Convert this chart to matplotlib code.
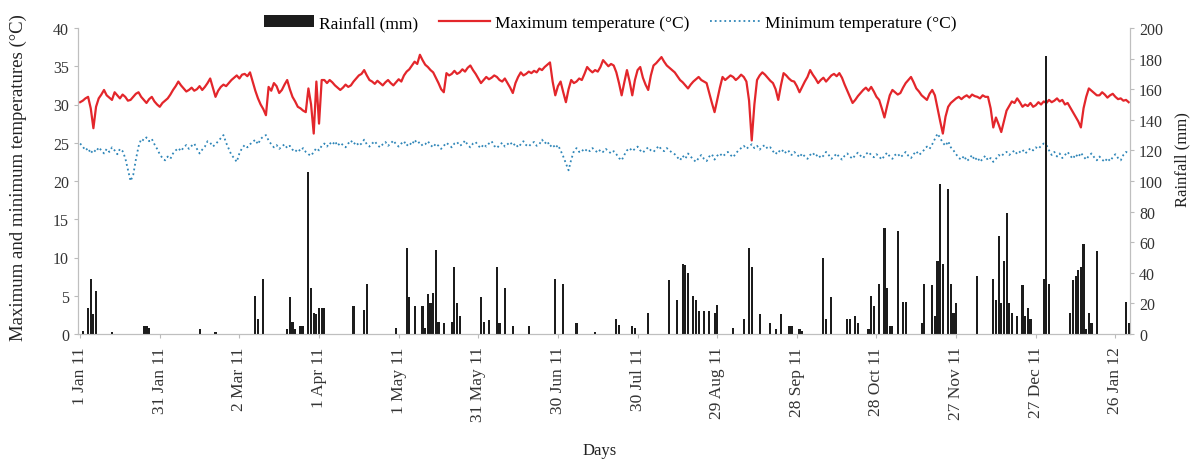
import matplotlib
matplotlib.use("Agg")
import matplotlib.pyplot as plt
import numpy as np
import pandas as pd

plt.rcParams['font.family'] = ['Liberation Serif', 'DejaVu Serif']

start_date = "2011-01-01"

# daily maximum temperature (degC), 1 Jan 2011 - 31 Jan 2012
tmax = [
    30.3, 30.5, 30.8, 31.0, 29.5, 26.9, 29.7, 30.8, 31.3, 31.9,
    31.2, 30.9, 30.6, 31.6, 31.2, 30.8, 31.3, 31.0, 30.5, 30.6,
    31.0, 31.4, 31.6, 31.0, 30.6, 30.2, 30.7, 31.0, 30.4, 30.0,
    29.7, 30.2, 30.5, 30.8, 31.3, 31.9, 32.4, 33.0, 32.5, 32.1,
    31.7, 31.9, 32.2, 31.8, 32.0, 32.4, 31.9, 32.3, 32.8, 33.4,
    32.2, 31.0, 31.8, 32.3, 32.6, 32.4, 32.8, 33.2, 33.5, 33.8,
    33.4, 33.9, 34.0, 33.7, 34.2, 33.0, 31.8, 30.8, 30.0, 29.4,
    28.6, 32.3, 31.8, 32.8, 32.4, 31.5, 31.9, 32.6, 33.2, 32.0,
    31.0, 30.4, 29.7, 29.5, 29.2, 29.0, 32.1, 30.0, 26.2, 33.0,
    27.5, 33.2, 33.2, 32.8, 33.2, 32.9, 32.5, 32.2, 31.9, 32.2,
    32.6, 32.3, 32.5, 33.0, 33.4, 33.8, 34.0, 34.5, 33.8, 33.2,
    33.0, 32.7, 33.1, 32.8, 32.5, 32.9, 33.2, 32.8, 32.5, 32.9,
    33.3, 33.0, 33.8, 34.3, 34.6, 35.1, 35.6, 35.3, 36.5, 35.8,
    35.2, 34.9, 34.5, 34.2, 33.5, 32.8, 32.0, 31.6, 34.1, 33.8,
    34.0, 34.4, 34.0, 34.2, 34.6, 34.3, 34.8, 35.1, 34.5, 34.0,
    33.4, 32.8, 33.2, 33.6, 33.3, 33.5, 33.8, 33.6, 33.2, 33.0,
    33.4, 32.8, 32.2, 31.5, 32.8, 33.6, 34.2, 33.8, 34.0, 34.3,
    34.1, 34.4, 34.2, 34.7, 34.5, 34.9, 35.2, 35.5, 33.0, 31.2,
    32.4, 33.0, 31.6, 30.3, 32.0, 33.2, 32.8, 33.0, 33.4, 33.2,
    34.0, 34.9, 34.5, 34.2, 34.5, 34.3, 34.9, 35.8, 35.4, 35.0,
    35.3, 35.1, 34.2, 32.8, 31.2, 32.9, 34.5, 33.0, 31.2, 33.2,
    34.5, 34.9, 33.5, 32.6, 31.9, 33.8, 35.1, 35.4, 35.8, 36.2,
    35.6, 35.1, 34.8, 34.5, 34.2, 33.7, 33.2, 32.9, 32.5, 32.1,
    32.6, 33.0, 33.3, 33.6, 33.2, 33.0, 32.8, 31.5, 30.2, 29.0,
    30.6, 32.2, 33.6, 33.2, 33.5, 33.8, 33.6, 33.2, 33.5, 33.9,
    33.6, 33.0, 30.5, 25.3, 30.0, 33.2, 33.8, 34.2, 33.9, 33.5,
    33.1, 32.8, 32.0, 30.6, 32.5, 34.1, 33.8, 33.4, 33.1, 33.0,
    32.4, 31.6, 32.3, 33.0, 33.6, 34.5, 33.9, 33.4, 32.8, 33.2,
    33.5, 33.0, 33.4, 33.8, 34.0, 33.7, 34.1, 33.5, 32.6, 31.8,
    31.0, 30.2, 30.6, 31.1, 31.5, 31.9, 32.2, 31.8, 32.3, 31.7,
    31.0, 30.6, 29.5, 28.3, 29.8, 31.2, 31.9, 31.6, 31.3, 31.5,
    32.2, 32.8, 33.2, 33.6, 32.9, 32.1, 31.7, 31.2, 30.9, 30.6,
    31.4, 31.9, 31.2, 29.5, 27.8, 26.2, 28.4, 29.7, 30.2, 30.5,
    30.8, 31.0, 30.7, 31.0, 31.2, 30.9, 31.3, 31.1, 31.0, 30.8,
    31.2, 31.0, 31.0, 29.5, 27.0, 28.3, 27.4, 26.4, 27.8, 29.2,
    29.8, 30.4, 30.2, 30.8, 30.3, 29.7, 30.0, 29.8, 30.2, 29.7,
    29.9, 30.3, 30.0, 30.4, 30.2, 30.6, 30.3, 30.5, 30.8, 30.4,
    30.6, 30.0, 30.2, 29.6, 29.0, 28.4, 27.8, 27.0, 29.5, 31.0,
    32.1, 31.8, 31.5, 31.2, 31.2, 31.6, 31.3, 30.9, 31.2, 31.4,
    31.0, 30.7, 30.8, 30.5, 30.6, 30.3,
]

# daily minimum temperature (degC)
tmin = [
    24.9, 24.5, 24.0, 24.3, 23.6, 24.1, 23.8, 24.4, 24.0, 23.6,
    24.2, 23.8, 24.4, 24.0, 23.5, 24.2, 23.9, 23.0, 21.5, 20.0,
    20.8, 22.8, 24.5, 25.5, 25.3, 25.7, 25.2, 25.5, 24.8, 24.2,
    23.5, 23.0, 22.7, 23.2, 22.9, 23.6, 24.0, 24.3, 23.9, 24.4,
    24.7, 24.2, 24.6, 24.9, 24.2, 23.6, 24.1, 24.5, 25.2, 25.0,
    24.5, 24.8, 25.2, 25.6, 26.0, 25.0, 24.2, 23.4, 23.0, 22.5,
    23.6, 24.3, 24.7, 24.4, 24.8, 25.1, 25.4, 24.8, 25.5, 25.8,
    26.0, 25.3, 24.8, 24.4, 24.7, 24.2, 24.5, 24.8, 24.3, 24.6,
    24.1, 23.8, 24.2, 23.9, 24.3, 23.8, 23.5, 23.3, 23.8, 24.3,
    24.0, 24.6, 24.9, 24.5, 25.0, 24.7, 25.2, 24.6, 25.0, 24.7,
    24.4, 24.9, 25.3, 24.8, 25.1, 24.6, 24.9, 25.4, 24.8, 24.5,
    24.9, 25.2, 24.7, 24.4, 24.8, 25.1, 24.6, 24.9, 25.3, 24.8,
    24.5, 24.9, 25.2, 24.6, 25.0, 24.7, 25.4, 24.9, 25.1, 24.6,
    24.8, 25.2, 24.7, 24.4, 24.9, 24.6, 24.2, 24.6, 25.0, 24.7,
    24.4, 24.9, 25.1, 24.6, 24.8, 25.3, 24.7, 24.4, 24.9, 25.1,
    24.6, 24.3, 24.8, 24.5, 24.9, 25.2, 24.6, 24.3, 24.7, 25.0,
    24.5, 24.8, 25.1, 24.6, 24.9, 24.4, 24.8, 25.2, 24.7, 24.5,
    24.9, 25.1, 24.6, 24.8, 25.4, 24.9, 25.2, 24.5, 24.8, 24.3,
    24.7, 24.0, 23.2, 22.3, 21.4, 22.8, 23.9, 24.3, 23.8, 24.1,
    23.8, 24.2, 23.9, 24.3, 24.0, 23.7, 24.1, 23.8, 24.2, 23.9,
    23.6, 23.9, 23.5, 23.0, 22.7, 23.4, 24.0, 24.3, 23.9, 24.2,
    24.5, 24.0, 23.7, 24.1, 24.4, 24.0, 23.8, 24.2, 24.6, 24.1,
    23.9, 24.3, 24.0, 23.7, 23.5, 23.1, 22.7, 23.3, 22.9, 23.6,
    23.2, 22.8, 22.5, 23.0, 23.4, 22.9, 22.6, 23.2, 23.5, 22.8,
    23.3, 23.6, 23.2, 23.5, 23.8, 23.4, 23.1, 23.6, 24.0, 24.3,
    24.6, 24.2, 24.5, 24.8, 24.3, 24.6, 24.1, 24.5, 24.7, 24.2,
    24.4, 23.9, 23.5, 24.0, 23.7, 24.1, 23.6, 23.9, 23.4, 23.8,
    23.5, 23.1, 23.6, 23.2, 22.9, 23.4, 23.7, 23.2, 23.5, 23.0,
    23.3, 23.8, 23.4, 22.9, 23.2, 23.6, 23.1, 22.8, 23.3, 23.6,
    23.2, 22.9, 23.4, 23.7, 23.3, 23.0, 23.5, 23.8, 23.4, 23.1,
    23.5, 23.2, 22.8, 23.3, 23.7, 23.2, 22.9, 23.4, 23.6, 23.1,
    23.4, 23.8, 23.3, 23.0, 23.5, 23.9, 23.4, 23.7, 24.1, 24.5,
    24.2, 24.8, 25.5, 26.2, 25.6, 25.0, 24.6, 25.2, 24.4, 24.0,
    23.5, 23.0, 22.8, 23.3, 22.6, 22.9, 23.4, 22.7, 23.1, 22.5,
    22.9, 23.3, 22.7, 23.0, 22.5, 22.9, 23.4, 23.2, 23.6, 23.8,
    23.4, 23.7, 24.0, 23.5, 23.8, 24.1, 23.6, 23.9, 24.3, 24.0,
    24.4, 24.2, 24.6, 24.9, 24.7, 24.0, 23.4, 23.8, 23.2, 23.6,
    23.0, 23.4, 23.8, 23.3, 22.9, 23.5, 23.1, 23.7, 23.2, 22.8,
    23.3, 23.6, 23.1, 22.7, 23.2, 22.8, 22.5, 23.0, 22.6, 23.1,
    23.5, 23.0, 22.7, 23.4, 23.8, 23.6,
]

# rainy days (day index from 1 Jan 2011) and rainfall (mm)
rain_days = [1, 3, 4, 5, 6, 12, 24, 25, 26, 45, 51, 66, 67, 69, 78, 79, 80, 81,
             83, 84, 86, 87, 88, 89, 90, 91, 92, 103, 107, 108, 119, 123, 124,
             126, 129, 130, 131, 132, 133, 134, 135, 137, 140, 141, 142, 143,
             151, 152, 154, 157, 158, 160, 163, 169, 179, 182, 187, 194, 202,
             203, 208, 209, 214, 222, 225, 227, 228, 229, 231, 232, 233, 235,
             237, 239, 240, 246, 250, 252, 253, 256, 260, 262, 264, 267, 268,
             271, 272, 280, 281, 283, 289, 290, 292, 293, 297, 298, 299, 301,
             303, 304, 305, 306, 308, 310, 311, 317, 318, 321, 322, 323, 324,
             325, 327, 328, 329, 330, 338, 344, 345, 346, 347, 348, 349, 350,
             351, 353, 355, 356, 357, 358, 363, 364, 365, 373, 374, 375, 376,
             377, 378, 379, 380, 381, 383, 394, 395]
rain_mm = [2, 17, 36, 13, 28, 1, 5, 5, 4, 3, 1, 25, 10, 36, 3, 24, 8, 3,
           5, 5, 106, 30, 14, 13, 17, 17, 17, 18, 16, 33, 4, 56, 24,
           18, 18, 4, 26, 20, 27, 55, 8, 7, 8, 44, 20, 12,
           24, 8, 9, 44, 7, 30, 5, 5, 36, 33, 7, 1, 10,
           6, 5, 4, 14, 35, 22, 46, 45, 40, 25, 22, 15, 15,
           15, 14, 19, 4, 10, 56, 44, 13, 7, 3, 13, 5, 5,
           3, 2, 50, 10, 24, 10, 10, 12, 7, 3, 25, 18, 33,
           69, 30, 5, 5, 67, 21, 21, 7, 33, 32, 12, 48, 98,
           46, 95, 33, 14, 20, 38, 36, 22, 64, 20, 48, 79, 20,
           14, 12, 32, 12, 17, 10, 36, 182, 33, 14, 35, 38, 42,
           44, 59, 3, 14, 7, 54, 21, 7]

n_days = len(tmax)
days = np.arange(n_days)
rain = np.zeros(n_days)
rain[rain_days] = rain_mm

tick_days = np.arange(0, n_days, 30)
tick_dates = pd.Timestamp(start_date) + pd.to_timedelta(tick_days, unit="D")
tick_labels = [f"{d.day} {d.strftime('%b %y')}" for d in tick_dates]

fig = plt.figure(figsize=(11.91, 4.60), dpi=100)
ax = fig.add_axes([78 / 1191, 1 - 335 / 460, (1130 - 78) / 1191, (335 - 29) / 460])
ax2 = ax.twinx()

l1, = ax.plot(days, tmax, color="#e3262b", lw=1.6,
              label="Maximum temperature (\u00b0C)")
l2, = ax.plot(days, tmin, color="#2f86b8", lw=1.3, ls=":",
              label="Minimum temperature (\u00b0C)")
b = ax2.bar(days, rain, width=0.8, color="#1c1c1c", label="Rainfall (mm)")

ax.set_xlim(-0.8, n_days - 0.5)
ax.set_ylim(0, 40)
ax.set_yticks(np.arange(0, 41, 5))
ax2.set_ylim(0, 200)
ax2.set_yticks(np.arange(0, 201, 20))
ax.set_xticks(tick_days)
ax.set_xticklabels(tick_labels, rotation=90, fontsize=12.5, color="#333333")

for a in (ax, ax2):
    a.tick_params(axis="y", labelsize=11.5, colors="#333333", length=3,
                  width=0.8, color="#bbbbbb")
    for s in a.spines.values():
        s.set_color("#bfbfbf")
    a.spines["top"].set_visible(False)
ax.tick_params(axis="x", length=3, color="#bbbbbb", pad=6)

fig.text(18 / 1191, 1 - 178 / 460, "Maximum and minimum temperatures (\u00b0C)",
         rotation=90, ha="center", va="center", fontsize=13.5, color="#222222")
fig.text(1190 / 1191, 1 - 160 / 460, "Rainfall (mm)", rotation=90,
         ha="right", va="center", fontsize=12, color="#222222")
fig.text(600 / 1191, 1 - 451 / 460, "Days", ha="center", va="center",
         fontsize=12, color="#222222")

ax2.legend([b, l1, l2], ["Rainfall (mm)", "Maximum temperature (\u00b0C)",
                         "Minimum temperature (\u00b0C)"],
           loc="center", bbox_to_anchor=(0.506, 1.015), ncol=3, frameon=False,
           fontsize=12.5, handlelength=2.9, handleheight=0.7,
           columnspacing=1.2, handletextpad=0.3)

fig.savefig("out.png", dpi=100)
